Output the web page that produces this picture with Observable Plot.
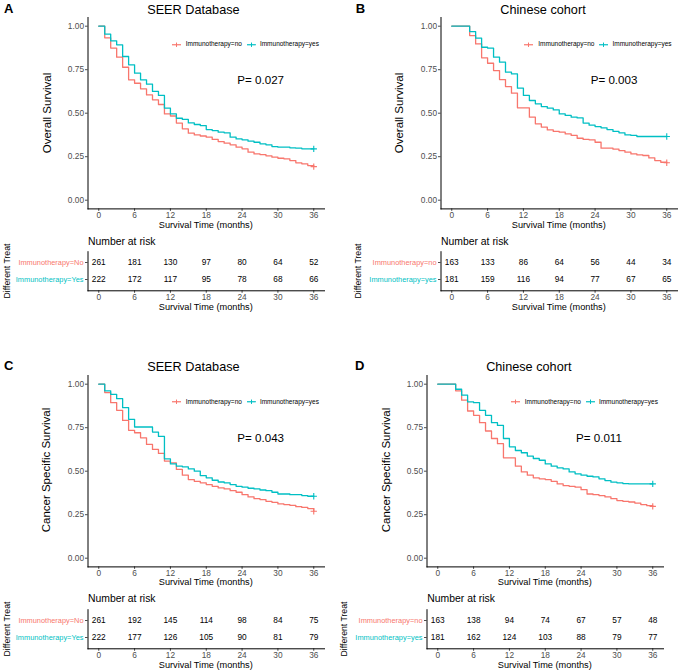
<!DOCTYPE html>
<html><head><meta charset="utf-8">
<script src="https://cdn.jsdelivr.net/npm/d3@7"></script>
<script src="https://cdn.jsdelivr.net/npm/@observablehq/plot@0.6"></script>
<style>
body{margin:0;background:#fff}
#root{position:relative;width:680px;height:672px;overflow:hidden;font-family:"Liberation Sans",Arial,Helvetica,sans-serif;color:#000;background:#fff}
#root svg{position:absolute;overflow:visible}
.t{position:absolute;white-space:nowrap;line-height:1}
.leg{position:absolute;display:flex;align-items:center;white-space:nowrap;line-height:1;font-size:6.5px;color:#000}
</style></head><body><div id="root"></div><script>
// ---------- DATA ----------
const months = [0,1,2,3,4,5,6,7,8,9,10,11,12,13,14,15,16,17,18,19,20,21,22,23,24,25,26,27,28,29,30,31,32,33,34,35,36];
const groups = ["Immunotherapy=no", "Immunotherapy=yes"];
const riskTimes = [0, 6, 12, 18, 24, 30, 36];
const xTicks = [0, 6, 12, 18, 24, 30, 36];
const yTicks = [0, 0.25, 0.5, 0.75, 1];

// A: SEER overall survival
const osSeerNo  = [1,.933,.874,.822,.764,.692,.672,.640,.605,.577,.550,.496,.484,.443,.410,.385,.375,.369,.362,.349,.337,.328,.318,.305,.295,.276,.266,.262,.255,.247,.241,.238,.228,.215,.209,.199,.193];
const osSeerYes = [1,.954,.916,.893,.826,.778,.730,.692,.667,.625,.602,.529,.496,.471,.464,.444,.435,.429,.406,.400,.391,.387,.362,.352,.347,.339,.333,.324,.318,.308,.305,.305,.301,.299,.295,.295,.295];
// B: Chinese cohort overall survival
const osChnNo  = [1,1,1,.946,.898,.818,.787,.745,.693,.653,.615,.531,.531,.477,.439,.420,.404,.395,.391,.381,.372,.356,.349,.347,.333,.299,.299,.293,.285,.276,.266,.260,.257,.243,.228,.218,.215];
const osChnYes = [1,1,1,.969,.931,.879,.874,.822,.793,.736,.726,.644,.602,.573,.554,.538,.529,.519,.496,.487,.477,.473,.443,.431,.423,.416,.406,.395,.387,.375,.372,.366,.366,.366,.366,.366,.366];
// C: SEER cancer specific survival
const cssSeerNo  = [1,.952,.894,.850,.792,.735,.721,.692,.654,.625,.602,.558,.548,.510,.477,.452,.442,.433,.423,.413,.404,.398,.388,.379,.365,.352,.342,.337,.327,.321,.312,.308,.304,.296,.292,.285,.270];
const cssSeerYes = [1,.962,.942,.917,.865,.798,.754,.754,.754,.725,.700,.571,.542,.529,.525,.513,.500,.475,.462,.448,.438,.433,.423,.413,.408,.402,.398,.392,.388,.379,.369,.369,.365,.365,.360,.356,.356];
// D: Chinese cohort cancer specific survival
const cssChnNo  = [1,1,1,.962,.908,.846,.821,.779,.731,.688,.658,.577,.577,.529,.496,.477,.462,.456,.452,.442,.427,.417,.413,.408,.394,.369,.365,.360,.352,.342,.331,.327,.323,.317,.308,.302,.298];
const cssChnYes = [1,1,1,.971,.937,.898,.894,.850,.821,.779,.763,.688,.640,.619,.606,.587,.573,.563,.542,.529,.519,.513,.496,.485,.477,.471,.467,.456,.446,.437,.433,.429,.427,.427,.427,.427,.427];

// numbers at risk
const riskSeerOsNo  = [261,181,130,97,80,64,52];
const riskSeerOsYes = [222,172,117,95,78,68,66];
const riskChnOsNo   = [163,133,86,64,56,44,34];
const riskChnOsYes  = [181,159,116,94,77,67,65];
const riskSeerCssNo  = [261,192,145,114,98,84,75];
const riskSeerCssYes = [222,177,126,105,90,81,79];
const riskChnCssNo   = [163,138,94,74,67,57,48];
const riskChnCssYes  = [181,162,124,103,88,79,77];

const rowLabelsUpper = ["Immunotherapy=No", "Immunotherapy=Yes"];
const rowLabelsLower = ["Immunotherapy=no", "Immunotherapy=yes"];

const panelLetters = ["A", "B", "C", "D"];
const panelTitles = ["SEER Database", "Chinese cohort", "SEER Database", "Chinese cohort"];
const yLabels = ["Overall Survival", "Overall Survival", "Cancer Specific Survival", "Cancer Specific Survival"];
const pValues = ["P= 0.027", "P= 0.003", "P= 0.043", "P= 0.011"];
const xLabel = "Survival Time (months)";
const riskTitle = "Number at risk";
const tableYLabel = "Different Treat";

// ---------- STYLE / LAYOUT ----------
const FONT = '"Liberation Sans", Arial, Helvetica, sans-serif';
const RED = "#F8766D", CYAN = "#00BFC4";
const root = document.getElementById("root");

function txt(s, x, y, o = {}) {
  const d = document.createElement("div");
  d.className = "t";
  d.textContent = s;
  d.style.left = x + "px"; d.style.top = y + "px";
  d.style.fontSize = (o.size || 10) + "px";
  if (o.color) d.style.color = o.color;
  if (o.weight) d.style.fontWeight = o.weight;
  const ax = o.anchor === "middle" ? "-50%" : o.anchor === "end" ? "-100%" : "0";
  d.style.transform = `translate(${ax},-50%)` + (o.rotate ? ` rotate(${o.rotate}deg)` : "");
  root.appendChild(d);
}

function legendKey(color) {
  const ns = "http://www.w3.org/2000/svg";
  const s = document.createElementNS(ns, "svg");
  s.setAttribute("width", 9); s.setAttribute("height", 6);
  s.style.position = "static";
  s.innerHTML = `<line x1="0" x2="9" y1="3" y2="3" stroke="${color}" stroke-width="1.2"/><line x1="4.5" x2="4.5" y1="0.8" y2="5.2" stroke="${color}" stroke-width="1"/>`;
  return s;
}

function legend(x, y) {
  const d = document.createElement("div");
  d.className = "leg";
  d.style.left = x + "px"; d.style.top = y + "px";
  d.style.transform = "translate(0,-50%)";
  const k1 = legendKey(RED); k1.style.marginRight = "5px";
  const t1 = document.createElement("span"); t1.textContent = groups[0]; t1.style.marginRight = "5px";
  const k2 = legendKey(CYAN); k2.style.marginRight = "4px";
  const t2 = document.createElement("span"); t2.textContent = groups[1];
  d.append(k1, t1, k2, t2);
  root.appendChild(d);
}

const series = [
  {no: osSeerNo, yes: osSeerYes, rNo: riskSeerOsNo, rYes: riskSeerOsYes, rows: rowLabelsUpper},
  {no: osChnNo, yes: osChnYes, rNo: riskChnOsNo, rYes: riskChnOsYes, rows: rowLabelsLower},
  {no: cssSeerNo, yes: cssSeerYes, rNo: riskSeerCssNo, rYes: riskSeerCssYes, rows: rowLabelsUpper},
  {no: cssChnNo, yes: cssChnYes, rNo: riskChnCssNo, rYes: riskChnCssYes, rows: rowLabelsLower}
];

const layout = [
  {ox: 0,   oy: 0,     axL: 87.5,  axR: 324, letterX: 4,     titleX: 193.4, yLabX: 48,    legX: 171.7, pX: 237.3, nrX: 88,    dtX: 6.7},
  {ox: 340, oy: 0,     axL: 440.5, axR: 677, letterX: 355.7, titleX: 543,   yLabX: 400,   legX: 524.3, pX: 590.7, nrX: 441,   dtX: 358.3},
  {ox: 0,   oy: 357.6, axL: 87.5,  axR: 324, letterX: 4,     titleX: 193.4, yLabX: 46.7,  legX: 171.7, pX: 237.3, nrX: 88,    dtX: 6.7},
  {ox: 340, oy: 357.6, axL: 426.5, axR: 663, letterX: 355,   titleX: 528.8, yLabX: 386.7, legX: 510.7, pX: 576,   nrX: 427.3, dtX: 344.3}
];

const baseStyle = {fontFamily: FONT, fontSize: "8.3px", background: "transparent", overflow: "visible"};

layout.forEach((L, i) => {
  const S = series[i];
  const ml = L.axL - L.ox, mr = L.ox + 340 - L.axR;
  const lineNo = months.map((t, j) => ({t, s: S.no[j]}));
  const lineYes = months.map((t, j) => ({t, s: S.yes[j]}));

  const main = Plot.plot({
    width: 340, height: 222,
    marginLeft: ml, marginRight: mr, marginTop: 17, marginBottom: 13.6,
    style: baseStyle,
    x: {domain: [-1.8, 37.8]},
    y: {domain: [-0.05, 1.05]},
    marks: [
      Plot.axisX({ticks: xTicks, tickSize: 2.5, tickPadding: 1, label: null, color: "#4D4D4D"}),
      Plot.axisY({ticks: yTicks, tickSize: 2.5, tickPadding: 1.5, label: null, tickFormat: d3.format(".2f"), color: "#4D4D4D"}),
      Plot.frame({anchor: "left", stroke: "#000", strokeWidth: 1}),
      Plot.frame({anchor: "bottom", stroke: "#000", strokeWidth: 1}),
      Plot.line(lineNo, {x: "t", y: "s", curve: "step-after", stroke: RED, strokeWidth: 1.3}),
      Plot.line(lineYes, {x: "t", y: "s", curve: "step-after", stroke: CYAN, strokeWidth: 1.3}),
      Plot.dot(lineNo.slice(-1), {x: "t", y: "s", symbol: "plus", r: 2.2, stroke: RED, strokeWidth: 1.1}),
      Plot.dot(lineYes.slice(-1), {x: "t", y: "s", symbol: "plus", r: 2.2, stroke: CYAN, strokeWidth: 1.1})
    ]
  });
  main.style.left = L.ox + "px"; main.style.top = L.oy + "px";
  root.appendChild(main);

  const riskData = [];
  riskTimes.forEach((t, j) => {
    riskData.push({t, g: S.rows[0], n: S.rNo[j]});
    riskData.push({t, g: S.rows[1], n: S.rYes[j]});
  });

  const table = Plot.plot({
    width: 340, height: 57,
    marginLeft: ml, marginRight: mr, marginTop: 6.2, marginBottom: 11.7,
    style: baseStyle,
    x: {domain: [-1.8, 37.8]},
    y: {type: "point", domain: S.rows, padding: 0.6},
    marks: [
      Plot.axisX({ticks: xTicks, tickSize: 2.5, tickPadding: 1, label: null, color: "#4D4D4D"}),
      Plot.axisY({tickSize: 2.5, tickFormat: () => "", label: null, color: "#4D4D4D"}),
      Plot.frame({anchor: "left", stroke: "#000", strokeWidth: 1}),
      Plot.frame({anchor: "bottom", stroke: "#000", strokeWidth: 1}),
      Plot.text(riskData, {x: "t", y: "g", text: "n", fill: "#000", fontSize: 8.3}),
      Plot.text([S.rows[0]], {y: d => d, text: d => d, frameAnchor: "left", textAnchor: "end", dx: -4.5, fill: RED, fontSize: 7.4}),
      Plot.text([S.rows[1]], {y: d => d, text: d => d, frameAnchor: "left", textAnchor: "end", dx: -4.5, fill: CYAN, fontSize: 7.4})
    ]
  });
  table.style.left = L.ox + "px"; table.style.top = (L.oy + 245) + "px";
  root.appendChild(table);

  const cx = (L.axL + L.axR) / 2;
  txt(panelLetters[i], L.letterX, L.oy + 7.5, {size: 13, weight: "bold"});
  txt(panelTitles[i], L.titleX, L.oy + 9.5, {size: 12.7, anchor: "middle"});
  txt(yLabels[i], L.yLabX, L.oy + 112.7, {size: 11.5, anchor: "middle", rotate: -90});
  txt(pValues[i], L.pX, L.oy + 80, {size: 11.6});
  legend(L.legX, L.oy + 44.3);
  txt(xLabel, cx, L.oy + 225.5, {size: 9.2, anchor: "middle"});
  txt(riskTitle, L.nrX, L.oy + 241.7, {size: 10.4});
  txt(tableYLabel, L.dtX, L.oy + 271, {size: 8.7, anchor: "middle", rotate: -90});
  txt(xLabel, cx, L.oy + 308, {size: 9.2, anchor: "middle"});
});
</script></body></html>
